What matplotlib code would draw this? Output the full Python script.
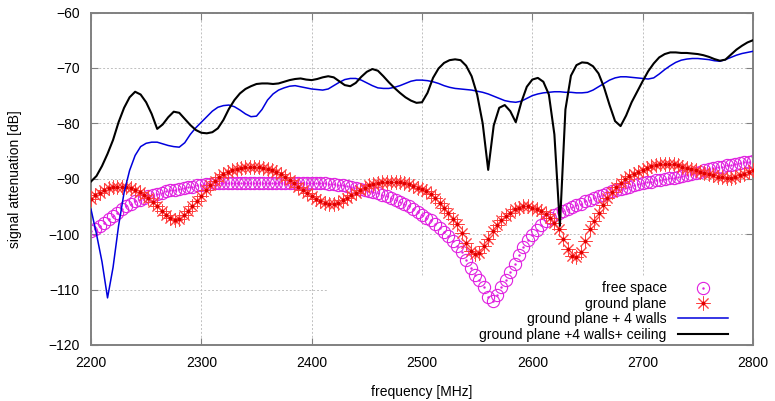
import numpy as np
import matplotlib
matplotlib.use('Agg')
import matplotlib.pyplot as plt
from matplotlib.patches import Rectangle

plt.rcParams['font.family'] = ['Liberation Sans', 'DejaVu Sans']

# free space / ground plane: sampled every 4 MHz
freq_pts = np.arange(2200, 2801, 4)
free_space = [
    -99.5, -99.1, -98.5, -97.9, -97.3, -96.7, -96.1, -95.5, -95.0, -94.6,
    -94.1, -93.8, -93.5, -93.2, -93.0, -92.8, -92.5, -92.3, -92.1, -92.0,
    -91.8, -91.6, -91.5, -91.4, -91.2, -91.1, -91.0, -90.9, -90.8, -90.8,
    -90.8, -90.8, -90.8, -90.8, -90.8, -90.8, -90.8, -90.8, -90.8, -90.8,
    -90.8, -90.8, -90.8, -90.8, -90.8, -90.8, -90.8, -90.8, -90.8, -90.8,
    -90.8, -90.8, -90.8, -90.8, -90.9, -91.0, -91.1, -91.2, -91.3, -91.4,
    -91.6, -91.8, -92.0, -92.2, -92.4, -92.6, -92.9, -93.2, -93.5, -93.8,
    -94.2, -94.6, -95.0, -95.5, -96.0, -96.5, -97.0, -97.5, -98.1, -98.8,
    -99.6, -100.4, -101.3, -102.1, -103.3, -104.7, -106.1, -107.3, -108.2, -109.6,
    -111.3, -112.0, -111.0, -109.5, -108.2, -106.8, -105.3, -103.8, -102.4, -101.1,
    -100.1, -99.2, -98.4, -97.7, -97.1, -96.6, -96.2, -95.9, -95.5, -95.1,
    -94.8, -94.5, -94.1, -93.8, -93.5, -93.2, -92.9, -92.6, -92.3, -92.1,
    -91.8, -91.6, -91.4, -91.2, -91.0, -90.8, -90.6, -90.5, -90.3, -90.2,
    -90.0, -89.9, -89.8, -89.6, -89.5, -89.3, -89.1, -88.9, -88.7, -88.5,
    -88.3, -88.1, -87.9, -87.8, -87.6, -87.5, -87.3, -87.2, -87.0, -86.9,
    -86.8,
]
ground_plane = [
    -93.6, -93.0, -92.5, -92.0, -91.7, -91.5, -91.4, -91.4, -91.5, -91.7,
    -92.0, -92.4, -92.9, -93.5, -94.2, -95.0, -95.8, -96.5, -97.1, -97.5,
    -97.2, -96.6, -95.9, -95.0, -94.1, -93.1, -92.1, -91.2, -90.4, -89.7,
    -89.2, -88.8, -88.5, -88.2, -88.0, -87.9, -87.8, -87.8, -87.9, -88.0,
    -88.2, -88.5, -88.8, -89.2, -89.7, -90.2, -90.8, -91.4, -92.0, -92.6,
    -93.1, -93.6, -94.0, -94.3, -94.5, -94.5, -94.3, -93.9, -93.5, -93.0,
    -92.5, -92.0, -91.6, -91.2, -90.9, -90.7, -90.6, -90.5, -90.5, -90.5,
    -90.6, -90.8, -91.0, -91.3, -91.6, -91.9, -92.3, -92.8, -93.5, -94.3,
    -95.2, -96.2, -97.2, -98.2, -99.8, -101.6, -103.0, -103.6, -103.4, -102.2,
    -100.8, -99.5, -98.4, -97.5, -96.8, -96.1, -95.5, -95.2, -95.0, -95.0,
    -95.2, -95.5, -95.9, -96.4, -97.1, -98.0, -99.0, -100.9, -102.6, -103.9,
    -104.2, -103.3, -101.2, -99.1, -97.6, -96.2, -94.8, -93.5, -92.4, -91.5,
    -90.8, -90.1, -89.5, -89.1, -88.8, -88.4, -88.0, -87.7, -87.5, -87.4,
    -87.3, -87.3, -87.4, -87.6, -87.8, -88.0, -88.2, -88.5, -88.7, -89.0,
    -89.2, -89.4, -89.6, -89.7, -89.8, -89.8, -89.7, -89.4, -89.1, -88.8,
    -88.5,
]
free_space = free_space[:len(freq_pts)]
ground_plane = ground_plane[:len(freq_pts)]

# walls / ceiling: sampled every 5 MHz
freq_lines = np.arange(2200, 2801, 5)
walls = [
    -95.5, -100.0, -105.0, -111.5, -106.0, -98.5, -92.5, -88.5, -85.8, -84.2,
    -83.6, -83.4, -83.4, -83.7, -84.0, -84.2, -84.3, -83.5, -82.0, -80.8,
    -79.8, -78.8, -77.8, -77.1, -76.8, -76.7, -77.0, -77.6, -78.3, -78.8,
    -78.7, -77.5, -75.8, -74.7, -74.0, -73.6, -73.3, -73.2, -73.4, -73.6,
    -73.8, -73.9, -74.0, -73.8, -73.2, -72.6, -72.1, -71.9, -71.9, -72.2,
    -72.7, -73.2, -73.6, -73.7, -73.7, -73.5, -73.2, -72.8, -72.4, -72.2,
    -72.2, -72.3, -72.5, -72.8, -73.2, -73.5, -73.7, -73.8, -73.9, -74.0,
    -74.2, -74.4, -74.7, -75.1, -75.5, -75.9, -76.1, -76.2, -76.0, -75.5,
    -75.0, -74.7, -74.5, -74.4, -74.3, -74.3, -74.4, -74.4, -74.5, -74.5,
    -74.4, -74.0, -73.4, -72.8, -72.2, -71.8, -71.6, -71.6, -71.7, -71.8,
    -71.9, -72.0, -71.8, -71.1, -70.3, -69.6, -69.0, -68.6, -68.4, -68.3,
    -68.3, -68.4, -68.5, -68.7, -68.8, -68.5, -68.1, -67.7, -67.4, -67.2,
    -67.0,
]
ceiling = [
    -90.5, -89.5, -87.7, -85.5, -83.0, -79.8, -77.2, -75.3, -74.3, -74.8,
    -76.2, -78.3, -81.0, -80.2, -78.9, -77.9, -78.1, -79.2, -80.3, -81.2,
    -81.7, -81.8, -81.6, -80.9, -79.4, -77.4, -75.8, -74.6, -73.8, -73.3,
    -72.9, -72.8, -72.8, -72.9, -72.8, -72.5, -72.2, -72.0, -71.9, -72.1,
    -72.2, -72.0, -71.7, -71.5, -71.7, -72.4, -73.1, -73.3, -72.7, -71.6,
    -70.7, -70.2, -70.5, -71.5, -72.6, -73.6, -74.5, -75.3, -75.9, -76.3,
    -76.2, -74.5, -71.8, -70.1, -69.1, -68.6, -68.45, -68.6, -69.6, -71.5,
    -74.8, -80.0, -88.4, -80.4, -77.2, -76.7, -77.8, -79.8, -76.2, -73.4,
    -72.1, -71.8, -72.5, -74.8, -82.0, -98.5, -77.5, -71.4, -69.5, -69.0,
    -69.1, -69.7, -71.0, -73.5, -76.7, -79.6, -80.5, -78.6, -76.2, -74.3,
    -72.4, -70.6, -69.2, -68.1, -67.5, -67.2, -67.2, -67.3, -67.3, -67.4,
    -67.5, -67.7, -68.0, -68.4, -68.7, -68.5, -67.6, -66.7, -66.0, -65.4,
    -65.0,
]

labels = ['free space', 'ground plane', 'ground plane + 4 walls',
          'ground plane +4 walls+ ceiling']

fig = plt.figure(figsize=(7.75, 4.01), dpi=100)
ax = fig.add_axes([0.1174, 0.1397, 0.8542, 0.8291])

mag = '#e020e0'
c1, = ax.plot(freq_pts, free_space, 'o', mfc='none', mec=mag, ms=8.8, mew=0.8, zorder=2)
c2, = ax.plot(freq_pts, free_space, '.', color=mag, ms=1.5, zorder=2)
s1, = ax.plot(freq_pts, ground_plane, ls='none', marker=(8, 2, 0), color='#ff4040',
              ms=10, mew=0.7, zorder=3)
s2, = ax.plot(freq_pts, ground_plane, '.', color='#e00000', ms=3.5, zorder=3)
l1, = ax.plot(freq_lines, walls, color='#0000dd', lw=1.1, zorder=4)
l2, = ax.plot(freq_lines, ceiling, color='black', lw=1.5, zorder=5)

# opaque key area hides the grid, not the data
ax.add_patch(Rectangle((0.356, 0.0), 0.644, 0.205, transform=ax.transAxes,
                       facecolor='white', edgecolor='none', zorder=1))

ax.set_xlim(2200, 2800)
ax.set_ylim(-120, -60)
ax.set_xticks(range(2200, 2801, 100))
ax.set_yticks(range(-120, -59, 10))
ax.set_axisbelow(True)
ax.grid(True, color='#c0c0c0', lw=0.7, ls=(0, (2, 2)))

for sp in ax.spines.values():
    sp.set_color('#808080')
    sp.set_linewidth(1.4)
ax.tick_params(direction='in', length=5, width=0.8, color='#808080',
               top=True, right=True, labelsize=10, pad=8)

ax.set_xlabel('frequency [MHz]', fontsize=10)
ax.set_ylabel('signal attenuation [dB]', fontsize=10)
ax.xaxis.set_label_coords(0.5, -0.12)
ax.yaxis.set_label_coords(-0.104, 0.5)

ax.legend([(c1, c2), (s1, s2), l1, l2], labels, loc='lower right',
          bbox_to_anchor=(0.962, 0.01), frameon=False, markerfirst=False,
          fontsize=10, handlelength=3.6, handletextpad=0.8, labelspacing=0.1,
          borderpad=0, borderaxespad=0, numpoints=1)
for t in ax.get_legend().get_texts():
    t.set_ha('right')
ax.get_legend()._legend_box.align = 'right'

fig.savefig('out.png', dpi=100)
